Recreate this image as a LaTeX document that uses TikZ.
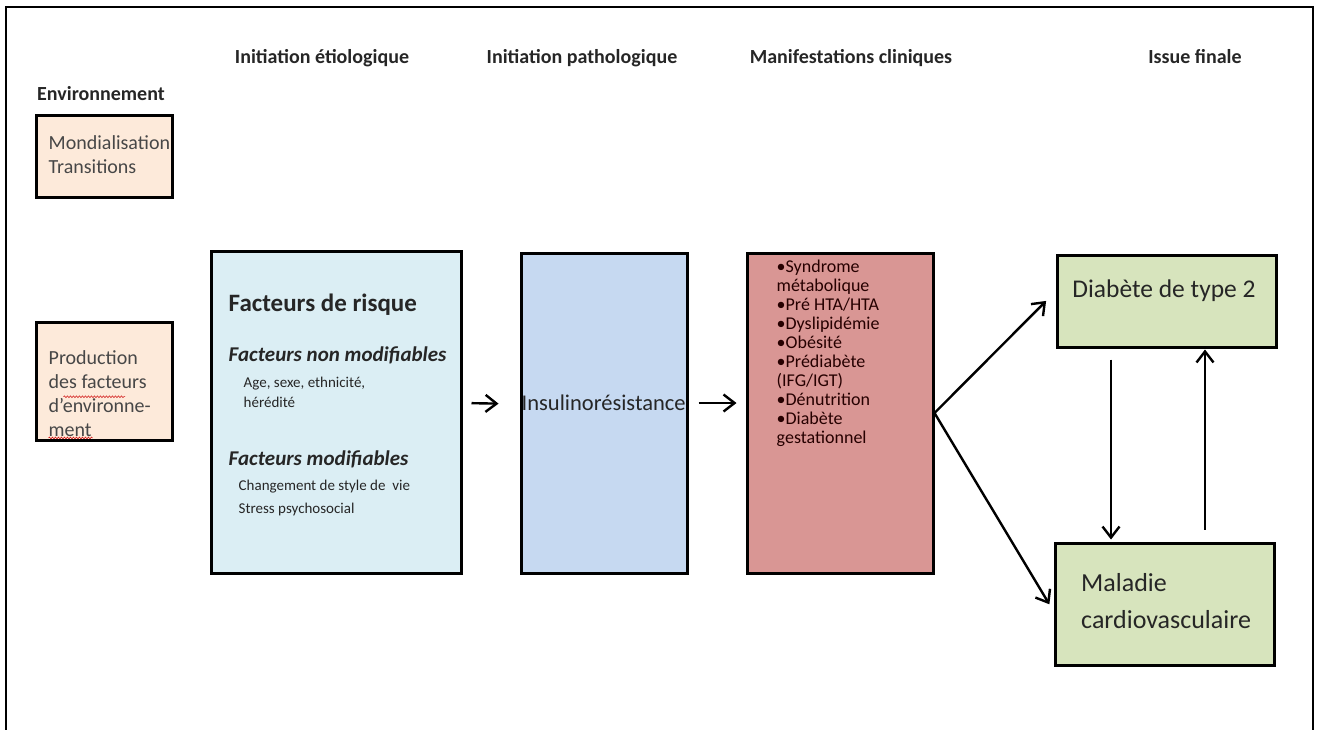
\documentclass[tikz,border=0pt]{standalone}
\usepackage{fontspec}
\setmainfont{Carlito}
\usepackage{xcolor}
\usepackage{tikz}
\usetikzlibrary{arrows.meta,positioning,calc,decorations.pathmorphing}
\definecolor{EnvPeach}{HTML}{FDEADA}
\definecolor{RiskBlue}{HTML}{DBEEF4}
\definecolor{InsulBlue}{HTML}{C6D9F1}
\definecolor{ManifRose}{HTML}{D99694}
\definecolor{IssueGreen}{HTML}{D7E4BD}
\definecolor{TextDark}{HTML}{262626}
\newcommand{\fsz}[1]{\fontsize{#1}{#1}\selectfont}
\tikzset{
  stagebox/.style={draw=black,line width=3pt,inner sep=0pt},
  headlabel/.style={font=\fsz{20}\bfseries,text=TextDark,anchor=base,inner sep=0pt},
  boxtext/.style={align=left,anchor=north west,inner sep=0pt,text=TextDark},
  stagearrow/.style={-{Straight Barb[length=11pt,width=17pt]},line width=2.4pt,draw=black},
  spellmark/.style={draw=red!80!black,line width=0.5pt,decorate,decoration={snake,amplitude=0.9pt,segment length=3pt}}
}

\begin{document}
\begin{tikzpicture}[x=1pt,y=-1pt]
\useasboundingbox (0,0) rectangle (1320,729);
\draw[line width=2.6pt] (6,760) -- (6,7) -- (1313,7) -- (1313,760);
% column headings
\node[headlabel] (hEtio) at (322,63) {Initiation étiologique};
\node[headlabel] (hPatho) at (582,63) {Initiation pathologique};
\node[headlabel] (hManif) at (851,63) {Manifestations cliniques};
\node[headlabel] (hIssue) at (1195,63) {Issue finale};
\node[headlabel] (hEnv) at (101,100) {Environnement};
% environment boxes
\node[stagebox,fill=EnvPeach,minimum width=136pt,minimum height=82pt] (mond) at (104,156) {};
\node[boxtext,font=\fsz{20},text=TextDark!85,align=left] (mondTxt) at ([xshift=14pt,yshift=-22pt]mond.north west)
  {Mondialisation\\[4pt]Transitions};
\node[stagebox,fill=EnvPeach,minimum width=136pt,minimum height=118pt] (prod) at (104,381) {};
\node[boxtext,font=\fsz{20},text=TextDark!85] (prodTxt) at ([xshift=14pt,yshift=-30pt]prod.north west)
  {Production\\[4pt]des facteurs\\[4pt]d'environne-\\[4pt]ment};
\draw[spellmark] ([xshift=15pt,yshift=-3pt]prodTxt.west) -- ([xshift=-26pt,yshift=-3pt]prodTxt.east);
\draw[spellmark] ([yshift=-1pt]prodTxt.south west) -- ([xshift=44pt,yshift=-1pt]prodTxt.south west);
% main chain
\node[stagebox,fill=RiskBlue,minimum width=250pt,minimum height=322pt] (risk) at (336,412) {};
\node[boxtext] (riskTxt) at ([xshift=19pt,yshift=-44pt]risk.north west)
  {{\fsz{25}\bfseries Facteurs de risque}\\[31pt]
   {\fsz{21}\bfseries\itshape Facteurs non modifiables}\\[12pt]
   \hspace*{15pt}{\fsz{15}Age, sexe, ethnicité,}\\[6pt]
   \hspace*{15pt}{\fsz{15}hérédité}\\[42pt]
   {\fsz{21}\bfseries\itshape Facteurs modifiables}\\[11pt]
   \hspace*{10pt}{\fsz{15}Changement de style de\ \ vie}\\[9pt]
   \hspace*{10pt}{\fsz{15}Stress psychosocial}};
\node[stagebox,fill=InsulBlue,minimum width=166pt,minimum height=320pt] (insul) at (604,413) {};
\node[anchor=west,inner sep=0pt,font=\fsz{22.5},text=TextDark] (insulTxt) at ([xshift=2pt,yshift=10pt]insul.west) {Insulinorésistance};
\node[stagebox,fill=ManifRose,minimum width=186pt,minimum height=320pt] (manif) at (840,413) {};
\node[boxtext,font=\fsz{18},text=black!85!red] (manifTxt) at ([xshift=31pt,yshift=-8pt]manif.north west)
  {\textbullet Syndrome\\[1pt] métabolique\\[1pt] \textbullet Pré HTA/HTA\\[1pt] \textbullet Dyslipidémie\\[1pt]
   \textbullet Obésité\\[1pt] \textbullet Prédiabète\\[1pt] (IFG/IGT)\\[1pt] \textbullet Dénutrition\\[1pt]
   \textbullet Diabète\\[1pt] gestationnel};
\node[stagebox,fill=IssueGreen,minimum width=219pt,minimum height=92pt] (diab) at (1167,301) {};
\node[inner sep=0pt,font=\fsz{25.5},text=TextDark] (diabTxt) at (1164,291) {Diabète de type 2};
\node[stagebox,fill=IssueGreen,minimum width=219pt,minimum height=122pt] (mal) at (1165,604) {};
\node[boxtext,font=\fsz{26},text=TextDark] (malTxt) at ([xshift=27pt,yshift=-32pt]mal.north west)
  {Maladie\\[11pt]cardiovasculaire};
% arrows
\draw[stagearrow,shorten <=9pt,shorten >=21pt] ([yshift=9pt]risk.east) -- ([yshift=9pt]insul.west);
\draw[stagearrow,shorten <=10pt,shorten >=9pt] ([yshift=10pt]insul.east) -- ([yshift=10pt]manif.west);
\draw[stagearrow,shorten >=14pt] (manif.east) -- ([yshift=10pt]diab.west);
\draw[stagearrow,shorten >=9pt] (manif.east) -- ([yshift=-8pt]mal.west);
\draw[stagearrow,shorten <=11pt,shorten >=2pt] ([xshift=-56pt]diab.south) -- ([xshift=-54pt]mal.north);
\draw[stagearrow,shorten <=12pt,shorten >=1pt] ([xshift=40pt]mal.north) -- ([xshift=38pt]diab.south);
\end{tikzpicture}
\end{document}
